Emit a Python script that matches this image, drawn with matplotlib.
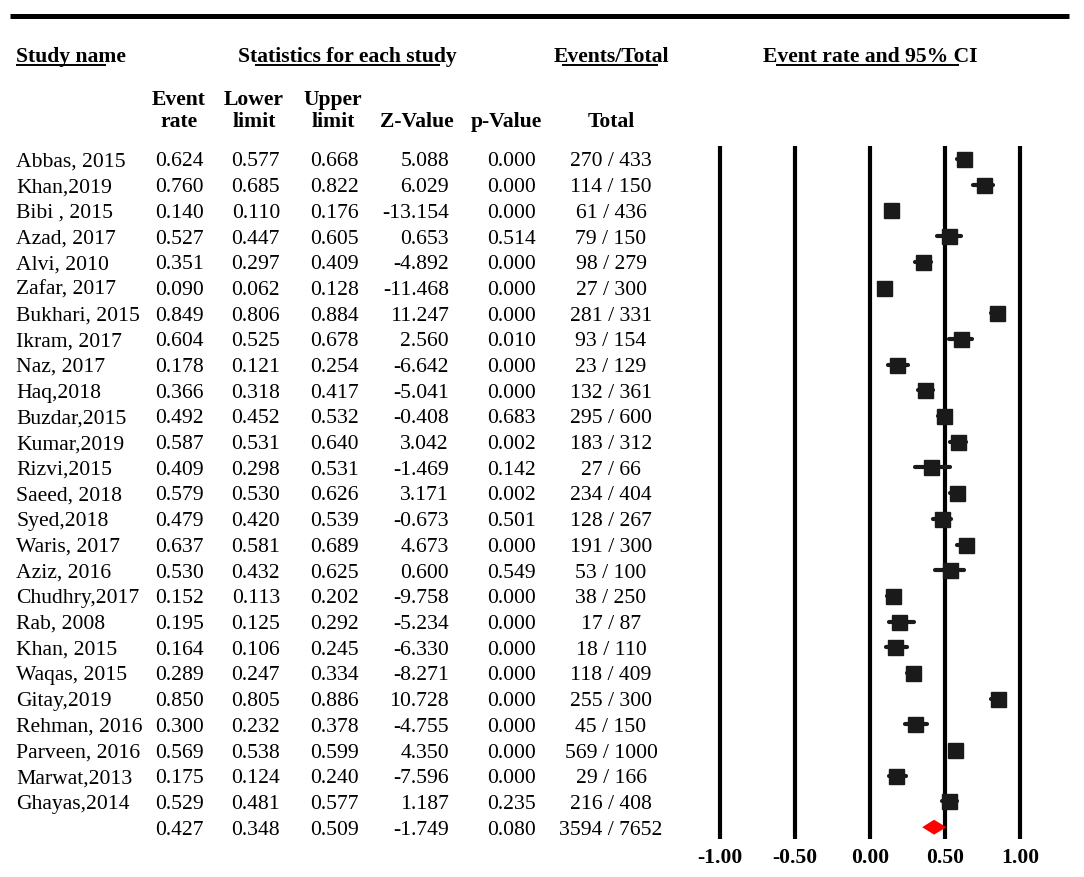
#!/usr/bin/env python

# forest plot: event rate and 95% CI per study

import matplotlib.pyplot as plt

plt.rcParams['font.family'] = ['Liberation Serif', 'DejaVu Serif']

# data
studies = ['Abbas, 2015', 'Khan,2019', 'Bibi , 2015', 'Azad, 2017', 'Alvi, 2010',
           'Zafar, 2017', 'Bukhari, 2015', 'Ikram, 2017', 'Naz, 2017', 'Haq,2018',
           'Buzdar,2015', 'Kumar,2019', 'Rizvi,2015', 'Saeed, 2018', 'Syed,2018',
           'Waris, 2017', 'Aziz, 2016', 'Chudhry,2017', 'Rab, 2008', 'Khan, 2015',
           'Waqas, 2015', 'Gitay,2019', 'Rehman, 2016', 'Parveen, 2016',
           'Marwat,2013', 'Ghayas,2014']
event_rate = [0.624, 0.760, 0.140, 0.527, 0.351, 0.090, 0.849, 0.604, 0.178, 0.366,
              0.492, 0.587, 0.409, 0.579, 0.479, 0.637, 0.530, 0.152, 0.195, 0.164,
              0.289, 0.850, 0.300, 0.569, 0.175, 0.529]
lower = [0.577, 0.685, 0.110, 0.447, 0.297, 0.062, 0.806, 0.525, 0.121, 0.318,
         0.452, 0.531, 0.298, 0.530, 0.420, 0.581, 0.432, 0.113, 0.125, 0.106,
         0.247, 0.805, 0.232, 0.538, 0.124, 0.481]
upper = [0.668, 0.822, 0.176, 0.605, 0.409, 0.128, 0.884, 0.678, 0.254, 0.417,
         0.532, 0.640, 0.531, 0.626, 0.539, 0.689, 0.625, 0.202, 0.292, 0.245,
         0.334, 0.886, 0.378, 0.599, 0.240, 0.577]
z_value = [5.088, 6.029, -13.154, 0.653, -4.892, -11.468, 11.247, 2.560, -6.642, -5.041,
           -0.408, 3.042, -1.469, 3.171, -0.673, 4.673, 0.600, -9.758, -5.234, -6.330,
           -8.271, 10.728, -4.755, 4.350, -7.596, 1.187]
p_value = [0.000, 0.000, 0.000, 0.514, 0.000, 0.000, 0.000, 0.010, 0.000, 0.000,
           0.683, 0.002, 0.142, 0.002, 0.501, 0.000, 0.549, 0.000, 0.000, 0.000,
           0.000, 0.000, 0.000, 0.000, 0.000, 0.235]
events = [270, 114, 61, 79, 98, 27, 281, 93, 23, 132, 295, 183, 27, 234, 128, 191,
          53, 38, 17, 18, 118, 255, 45, 569, 29, 216]
totals = [433, 150, 436, 150, 279, 300, 331, 154, 129, 361, 600, 312, 66, 404, 267, 300,
          100, 250, 87, 110, 409, 300, 150, 1000, 166, 408]

# pooled estimate
pooled = dict(rate=0.427, lower=0.348, upper=0.509, z=-1.749, p=0.080,
              events=3594, total=7652)

x_ticks = [-1.00, -0.50, 0.00, 0.50, 1.00]

# layout (pixels)
W, H = 1084, 877
FS = 15.6
row0, row_h = 159, 25.7


def row_y(i):
    return row0 + i * row_h


fig = plt.figure(figsize=(W / 100, H / 100), dpi=100)

# full-figure axes in pixel units for the table text
tab = fig.add_axes([0, 0, 1, 1])
tab.set_xlim(0, W)
tab.set_ylim(H, 0)
tab.axis('off')

# top rule
tab.plot([10, 1069], [16, 16], color='black', lw=3.6, solid_capstyle='butt')

# header row 1 with partial underlines
hdr_base = 62
headers = [(16, 'left', 'Study name', (16, 106)),
           (347, 'center', 'Statistics for each study', (255, 440)),
           (611, 'center', 'Events/Total', (562, 658)),
           (870, 'center', 'Event rate and 95% CI', (776, 959))]
for x, ha, label, (u0, u1) in headers:
    tab.text(x, hdr_base, label, ha=ha, va='baseline', fontsize=FS, fontweight='bold')
    tab.plot([u0, u1], [hdr_base + 2.5, hdr_base + 2.5], color='black', lw=1.4,
             solid_capstyle='butt')

# header row 2
col_hdr = [(179, 'Event\nrate'), (254, 'Lower\nlimit'), (333, 'Upper\nlimit'),
           (417, 'Z-Value'), (506, 'p-Value'), (611, 'Total')]
for x, label in col_hdr:
    tab.text(x, 127, label, ha='center', va='baseline', fontsize=FS,
             fontweight='bold', linespacing=1.12, multialignment='center')

# table body
col_right = [204, 280, 359, 449, 536]
base_off = 7.4


def draw_row(i, name, vals, ev, tot):
    y = row_y(i) + base_off
    if name:
        tab.text(16, y, name, ha='left', va='baseline', fontsize=FS)
    for x, v in zip(col_right, vals):
        tab.text(x, y, f'{v:.3f}', ha='right', va='baseline', fontsize=FS)
    tab.text(611, y, f'{ev} / {tot}', ha='center', va='baseline', fontsize=FS)


for i, name in enumerate(studies):
    draw_row(i, name, [event_rate[i], lower[i], upper[i], z_value[i], p_value[i]],
             events[i], totals[i])
n = len(studies)
draw_row(n, '', [pooled['rate'], pooled['lower'], pooled['upper'], pooled['z'],
                 pooled['p']], pooled['events'], pooled['total'])

# forest axes: x in effect units, y in row index
ax_l, ax_r, ax_t, ax_b = 705, 1035, 140, 845
ax = fig.add_axes([ax_l / W, (H - ax_b) / H, (ax_r - ax_l) / W, (ax_b - ax_t) / H])
ax.set_facecolor('none')
ax.set_xlim(-1.1, 1.1)
ax.set_ylim((ax_b - row0) / row_h, (ax_t - row0) / row_h)
for s in ax.spines.values():
    s.set_visible(False)
ax.set_yticks([])

ax.vlines(x_ticks, (146 - row0) / row_h, (839 - row0) / row_h, color='black', lw=3)

rows = list(range(n))
ax.hlines(rows, lower, upper, color='#1a1a1a', lw=3, capstyle='round', zorder=3)
ax.plot(event_rate, rows, ls='none', marker='s', markersize=10.8,
        color='#1a1a1a', zorder=4)

# pooled diamond
dh = 0.29
ax.fill([pooled['lower'], pooled['rate'], pooled['upper'], pooled['rate']],
        [n, n - dh, n, n + dh], color='#ff0000', lw=0, zorder=4)

ax.set_xticks(x_ticks, labels=[f'{t:.2f}' for t in x_ticks])
ax.tick_params(axis='x', length=0, pad=2, labelsize=FS)
for lab in ax.get_xticklabels():
    lab.set_fontweight('bold')

fig.savefig('out.png', dpi=100)
